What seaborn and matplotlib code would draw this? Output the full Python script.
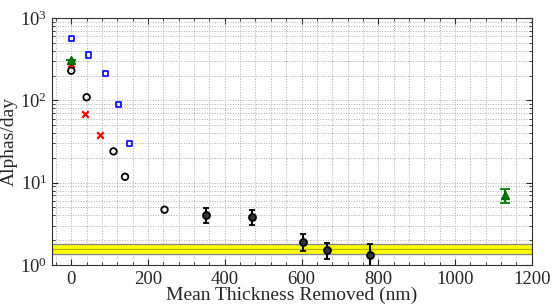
import numpy as np
import pandas as pd
import seaborn as sns
import matplotlib.pyplot as plt
from matplotlib.ticker import MultipleLocator, LogLocator

# === Dados ===
blue_x = [0, 44, 89, 124, 152]
blue_y = [566, 355, 213, 89, 30]

red_x = [0, 37, 75]
red_y = [275, 69, 38]

circ_x = [0, 40, 110, 140, 243]
circ_y = [229, 109, 24, 11.8, 4.7]

err_x = [350, 472, 603, 667, 779]
err_y = [4.0, 3.85, 1.9, 1.51, 1.32]
err_lo = [3.25, 3.1, 1.48, 1.18, 0.96]
err_hi = [4.88, 4.6, 2.35, 1.86, 1.78]

green_x = [0, 1131]
green_y = [305, 7.05]
green_lo = [305, 5.7]
green_hi = [305, 8.5]

band_lo, band_mid, band_hi = 1.35, 1.55, 1.78

sns.set_style("ticks")
plt.rcParams['font.family'] = ['Liberation Serif', 'DejaVu Serif']
plt.rcParams['mathtext.fontset'] = 'stix'

fig = plt.figure(figsize=(5.54, 3.05), dpi=100)
ax = fig.add_axes([0.094, 0.131, 0.866, 0.810])

# banda amarela
ax.axhspan(band_lo, band_hi, facecolor='#ffff00', edgecolor='#888888', linewidth=1.0, zorder=1)
ax.axhline(band_mid, color='#b8b800', linewidth=1.0, zorder=1)

sns.scatterplot(x=blue_x, y=blue_y, marker='s', s=14, facecolor='none', edgecolor='blue', linewidth=1.2, ax=ax, zorder=3)
sns.scatterplot(x=red_x, y=red_y, marker='x', s=22, color='red', linewidth=1.6, ax=ax, zorder=3)
sns.scatterplot(x=circ_x, y=circ_y, marker='o', s=22, facecolor='none', edgecolor='black', linewidth=1.3, ax=ax, zorder=3)

ey = np.array(err_y)
ax.errorbar(err_x, err_y, yerr=[ey - np.array(err_lo), np.array(err_hi) - ey], fmt='o', ms=5,
            mfc='#333333', mec='black', mew=1.3, ecolor='black', elinewidth=1.5, capsize=2.5, capthick=1.3, zorder=4)
gy = np.array(green_y)
ax.errorbar(green_x, green_y, yerr=[gy - np.array(green_lo), np.array(green_hi) - gy], fmt='^', ms=5.5,
            mfc='green', mec='darkgreen', ecolor='green', elinewidth=1.5, capsize=3.5, capthick=1.3, zorder=5)

ax.set_yscale('log')
ax.set_xlim(-50, 1200)
ax.set_ylim(1, 1000)
ax.xaxis.set_major_locator(MultipleLocator(200))
ax.xaxis.set_minor_locator(MultipleLocator(40))
ax.yaxis.set_major_locator(LogLocator(base=10))
ax.yaxis.set_minor_locator(LogLocator(base=10, subs=np.arange(2, 10)))

ax.grid(which='both', color='#aaaaaa', linestyle=':', linewidth=0.7, zorder=0)
ax.set_axisbelow(True)
ax.tick_params(which='both', direction='in', top=True, right=True, labelsize=13.5)
ax.tick_params(which='major', length=4)
ax.tick_params(which='minor', length=2)
ax.tick_params(axis='x', pad=4)
for s in ax.spines.values():
    s.set_linewidth(0.8)
    s.set_color('#333333')

ax.set_xlabel('Mean Thickness Removed (nm)', fontsize=14, labelpad=-1)
ax.set_ylabel('Alphas/day', fontsize=14, labelpad=2)

fig.savefig('out.png', dpi=100)
